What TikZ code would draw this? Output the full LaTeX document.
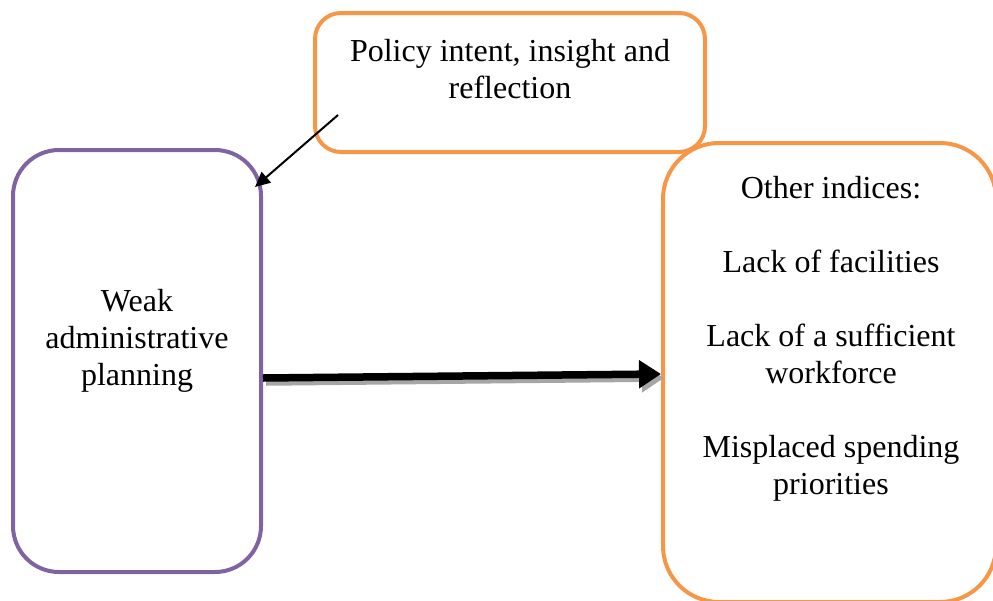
\documentclass[tikz,border=0pt]{standalone}
\usepackage{fontspec}
\setmainfont{Liberation Serif}
\usetikzlibrary{arrows.meta}
\definecolor{boxorange}{HTML}{F79646}
\definecolor{boxpurple}{HTML}{8064A2}
\begin{document}
\begin{tikzpicture}[x=1pt,y=-1pt,
  box/.style={draw, line width=4pt, rounded corners=#1, inner sep=0pt},
  txt/.style={align=center, inner sep=0pt, font=\fontsize{32}{37}\selectfont},
  thick arrow/.style={line width=7.5pt, -{Triangle[length=22pt,width=27pt]}}]
\useasboundingbox (0,0) rectangle (993,600);

% frames
\node[box=26pt, draw=boxorange, minimum width=390pt, minimum height=139pt] (policy) at (510,82.5) {};
\node[box=46pt, draw=boxpurple, minimum width=248pt, minimum height=422pt] (planning) at (137,361) {};
\node[box=56pt, draw=boxorange, minimum width=333pt, minimum height=459pt] (indices) at (829.5,372.5) {};

% texts
\node[txt] (policytxt) at (510,69) {Policy intent, insight and\\reflection};
\node[txt] (planningtxt) at (137,341) {Weak\\administrative\\planning};
\node[txt] (indicestxt) at (831,339) {Other indices:\\[37pt]Lack of facilities\\[37pt]Lack of a sufficient\\workforce\\[37pt]Misplaced spending\\priorities};

% thin connector
\coordinate (pstart) at (338,115);
\coordinate (ptip) at (255,187);
\draw[line width=2pt, -{Triangle[length=15pt,width=14pt]}] (pstart) -- (ptip);

% thick connector with its shadow
\draw[thick arrow, black!35] ([xshift=3pt,yshift=-21pt]planning.east) -- ([xshift=3pt,yshift=-5.5pt]indices.west);
\draw[thick arrow] ([yshift=-17pt]planning.east) -- ([yshift=-1.5pt]indices.west);
\end{tikzpicture}
\end{document}
